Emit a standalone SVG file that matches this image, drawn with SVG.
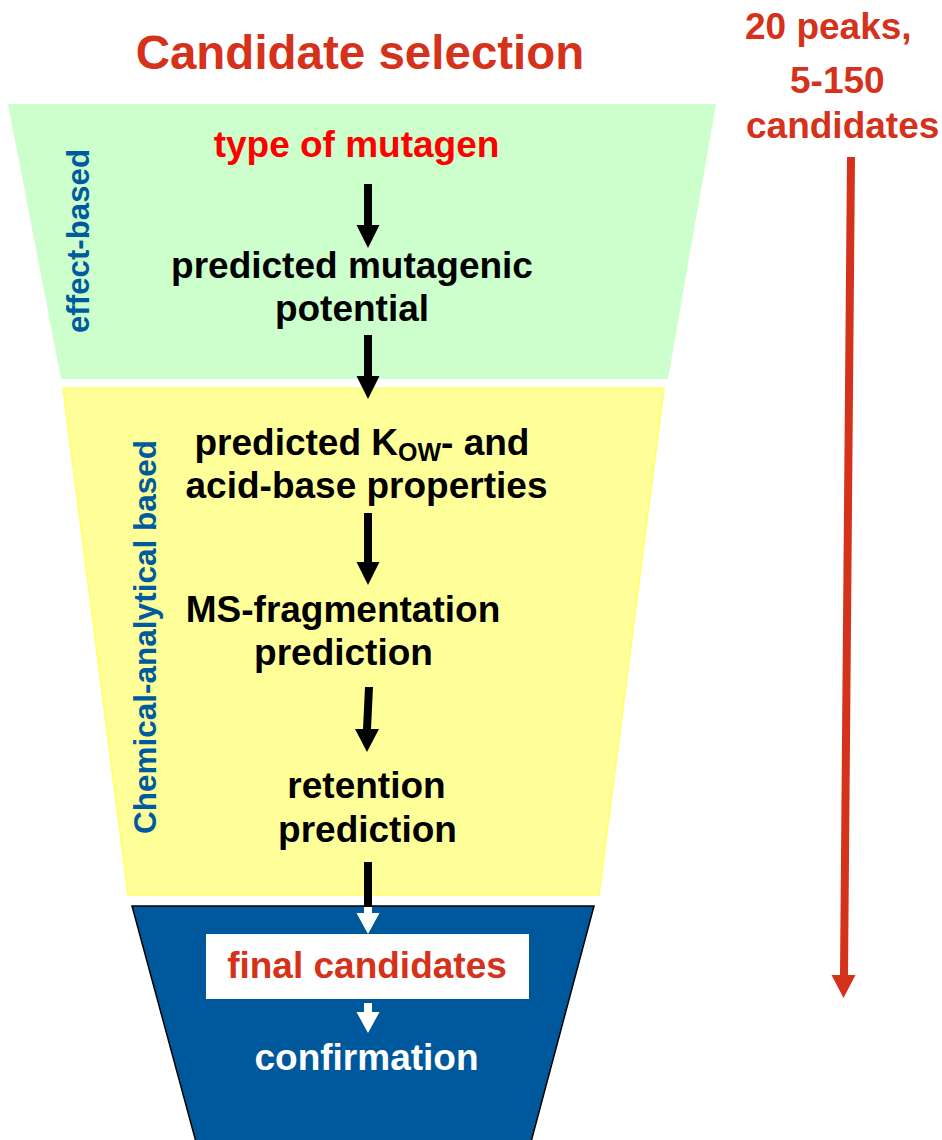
<svg xmlns="http://www.w3.org/2000/svg" width="942" height="1140" viewBox="0 0 942 1140">
  <style>
    .t { font-family: "Liberation Sans", Arial, sans-serif; font-weight: bold; font-size: 37px; text-anchor: middle; }
    .blk { fill: #000000; }
    .red { fill: #ff0000; }
    .ora { fill: #d5321b; }
    .wht { fill: #ffffff; }
    .lbl { font-family: "Liberation Sans", Arial, sans-serif; font-weight: bold; font-size: 31px; fill: #005a9e; text-anchor: middle; }
    .arr { fill: #000000; }
    .warr { fill: #ffffff; }
  </style>
  <rect x="0" y="0" width="942" height="1140" fill="#ffffff"/>

  <g id="band-effect">
    <polygon points="8,104 716,104 668,379 61,379" fill="#ccffcc"/>
    <text class="lbl" transform="translate(89,241) rotate(-90)" x="0" y="0" textLength="184" lengthAdjust="spacingAndGlyphs">effect-based</text>
  </g>
  <g id="band-chemical">
    <polygon points="63,388 664,388 599,895 128,895" fill="#ffff99" stroke="#ffff66" stroke-width="1.5"/>
    <text class="lbl" transform="translate(156,637) rotate(-90)" x="0" y="0" textLength="394" lengthAdjust="spacingAndGlyphs">Chemical-analytical based</text>
  </g>
  <g id="band-final">
    <polygon points="132,906 594,906 531,1142 196,1142" fill="#00589c" stroke="#000000" stroke-width="1.5"/>
  </g>

  <g id="title">
    <text class="t ora" x="360" y="69" style="font-size:47.5px">Candidate selection</text>
  </g>

  <g id="peaks-note">
    <text class="t ora" x="745" y="39" style="text-anchor:start">20 peaks,</text>
    <text class="t ora" x="790" y="93" style="text-anchor:start">5-150</text>
    <text class="t ora" x="746" y="138" style="text-anchor:start">candidates</text>
  </g>

  <g id="node-type-of-mutagen">
    <text class="t red" x="356.5" y="157">type of mutagen</text>
  </g>
  <g id="node-mutagenic-potential">
    <text class="t blk" x="352" y="278">predicted mutagenic</text>
    <text class="t blk" x="352" y="321">potential</text>
  </g>
  <g id="node-kow">
    <text class="t blk" x="362" y="455">predicted K<tspan dy="6" style="font-size:25px">OW</tspan><tspan dy="-6">- and</tspan></text>
    <text class="t blk" x="366.5" y="498">acid-base properties</text>
  </g>
  <g id="node-ms">
    <text class="t blk" x="343" y="622">MS-fragmentation</text>
    <text class="t blk" x="343.5" y="665">prediction</text>
  </g>
  <g id="node-retention">
    <text class="t blk" x="366.5" y="798">retention</text>
    <text class="t blk" x="367.5" y="842">prediction</text>
  </g>
  <g id="node-final">
    <rect x="206" y="934" width="323" height="65" fill="#ffffff"/>
    <text class="t ora" x="367" y="978">final candidates</text>
  </g>
  <g id="node-confirmation">
    <text class="t wht" x="366.5" y="1070">confirmation</text>
  </g>

  <g id="connectors">
    <polygon class="arr" points="364,184 372,184 372,225 379.5,225 368,248 356.5,225 364,225"/>
    <polygon class="arr" points="364,335 372,335 372,376 379.5,376 368,399 356.5,376 364,376"/>
    <polygon class="arr" points="364,513 372,513 372,562 379.5,562 368,585 356.5,562 364,562"/>
    <polygon class="arr" points="365,687 373,687 371,729 379,729 367,752 355,729 363,729"/>
    <rect class="arr" x="364" y="862" width="8" height="45"/>
    <polygon class="warr" points="364,907 372,907 372,913 379.5,913 368,934 356.5,913 364,913"/>
    <polygon class="warr" points="364,1003 372,1003 372,1012 379.5,1012 368,1033 356.5,1012 364,1012"/>
    <polygon fill="#d5321b" points="847,157 855,157 848,975 855.5,975 843.5,998 831.5,975 840,975"/>
  </g>
</svg>
